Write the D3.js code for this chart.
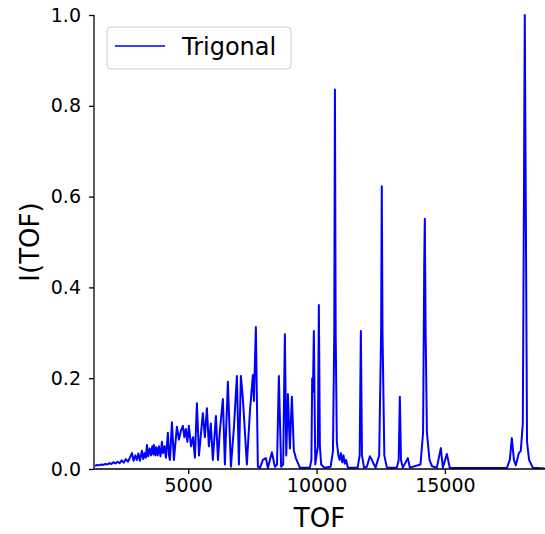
<!DOCTYPE html>
<html>
<head>
<meta charset="utf-8">
<script src="https://cdn.jsdelivr.net/npm/d3@7"></script>
<style>
  html, body { margin: 0; padding: 0; background: #fff; }
  svg text { font-family: "DejaVu Sans", sans-serif; fill: #000; }
</style>
</head>
<body>
<svg id="chart" width="545" height="534"></svg>
<script>
// ---- data ----
const seriesName = "Trigonal";
const tof = [
  1370, 1450, 1530, 1610, 1690, 1770, 1850, 1930, 2010, 2090, 2170, 2250, 2330, 2410, 2490, 2570, 2650, 2730, 2810, 2870,
  2940, 3000, 3060, 3120, 3197, 3250, 3300, 3350, 3392, 3440, 3500, 3548, 3600, 3640, 3665, 3720, 3760, 3810, 3859, 3920,
  3976, 4020, 4080, 4132, 4210, 4250, 4288, 4366, 4443, 4560, 4638, 4720, 4794, 4850, 4910, 4970, 5027, 5110, 5190, 5261,
  5339, 5420, 5570, 5650, 5728, 5806, 5880, 5960, 6079, 6160, 6235, 6351, 6429, 6546, 6663, 6780, 6897, 6975, 7052, 7130,
  7286, 7403, 7520, 7559, 7636, 7714, 7800, 7909, 8026, 8104, 8260, 8377, 8460, 8532, 8620, 8700, 8766, 8820, 8883, 8961,
  9039, 9117, 9194, 9350, 9740, 9800, 9830, 9860, 9895, 9950, 10050, 10090, 10130, 10180, 10300, 10550, 10640, 10690, 10716, 10745,
  10790, 10850, 10900, 10950, 11000, 11050, 11100, 11150, 11220, 11600, 11680, 11726, 11770, 11850, 11960, 12077, 12140, 12194, 12300, 12440,
  12515, 12542, 12570, 12640, 12740, 13128, 13200, 13245, 13290, 13362, 13557, 13635, 14050, 14150, 14195, 14218, 14250, 14300, 14400, 14500,
  14686, 14842, 14920, 15076, 15193, 17412, 17530, 17607, 17690, 17763, 17880, 17957, 18035, 18080, 18112, 18150, 18200, 18280, 18424, 18891
];
const intensity = [
  0.007, 0.009, 0.008, 0.010, 0.009, 0.011, 0.010, 0.013, 0.011, 0.015, 0.012, 0.016, 0.013, 0.019, 0.014, 0.022, 0.016, 0.025, 0.035, 0.018,
  0.030, 0.020, 0.034, 0.018, 0.040, 0.022, 0.035, 0.025, 0.053, 0.028, 0.045, 0.030, 0.050, 0.032, 0.053, 0.030, 0.048, 0.030, 0.050, 0.028,
  0.060, 0.035, 0.050, 0.025, 0.080, 0.030, 0.020, 0.103, 0.020, 0.093, 0.065, 0.085, 0.095, 0.070, 0.088, 0.060, 0.095, 0.050, 0.070, 0.025,
  0.145, 0.030, 0.123, 0.070, 0.134, 0.050, 0.100, 0.020, 0.117, 0.020, 0.085, 0.154, 0.010, 0.192, 0.005, 0.090, 0.205, 0.010, 0.205, 0.155,
  0.010, 0.126, 0.207, 0.150, 0.313, 0.005, 0.003, 0.020, 0.024, 0.002, 0.037, 0.005, 0.010, 0.205, 0.005, 0.010, 0.297, 0.030, 0.165, 0.045,
  0.159, 0.040, 0.024, 0.003, 0.003, 0.020, 0.200, 0.170, 0.304, 0.010, 0.050, 0.361, 0.050, 0.010, 0.003, 0.005, 0.040, 0.300, 0.836, 0.300,
  0.060, 0.030, 0.020, 0.035, 0.015, 0.030, 0.012, 0.020, 0.003, 0.003, 0.030, 0.304, 0.030, 0.003, 0.005, 0.028, 0.022, 0.015, 0.003, 0.030,
  0.300, 0.623, 0.300, 0.030, 0.003, 0.003, 0.020, 0.159, 0.020, 0.003, 0.024, 0.003, 0.010, 0.080, 0.450, 0.551, 0.300, 0.080, 0.020, 0.006,
  0.003, 0.046, 0.003, 0.033, 0.002, 0.002, 0.020, 0.068, 0.020, 0.008, 0.035, 0.040, 0.100, 0.600, 1.000, 0.600, 0.060, 0.020, 0.003, 0.001
];
const xTicks = [5000, 10000, 15000];
const yTicks = [0.0, 0.2, 0.4, 0.6, 0.8, 1.0];
const xDomain = [1330, 18900];
const yDomain = [0, 1];
const xLabel = "TOF";
const yLabel = "I(TOF)";

// ---- layout ----
const W = 545, H = 534;
const plot = { left: 94, right: 545, top: 15, bottom: 469 };
const svg = d3.select("#chart");

const x = d3.scaleLinear().domain(xDomain).range([plot.left, plot.right]);
const y = d3.scaleLinear().domain(yDomain).range([plot.bottom, plot.top]);

const data = tof.map((t, i) => ({ t, v: intensity[i] }));

svg.append("defs").append("clipPath").attr("id", "clip")
  .append("rect").attr("x", plot.left).attr("y", plot.top - 1)
  .attr("width", plot.right - plot.left).attr("height", plot.bottom - plot.top + 1);

// line
svg.append("path")
  .datum(data)
  .attr("clip-path", "url(#clip)")
  .attr("fill", "none")
  .attr("stroke", "#0000ff")
  .attr("stroke-width", 2)
  .attr("stroke-linejoin", "round")
  .attr("d", d3.line().x(d => x(d.t)).y(d => y(d.v)));

// axes
const xAxis = svg.append("g").attr("transform", `translate(0,${plot.bottom})`)
  .call(d3.axisBottom(x).tickValues(xTicks).tickFormat(d3.format("d")).tickSize(5).tickPadding(5));
const yAxis = svg.append("g").attr("transform", `translate(${plot.left},0)`)
  .call(d3.axisLeft(y).tickValues(yTicks).tickFormat(d3.format(".1f")).tickSize(5).tickPadding(8));

[xAxis, yAxis].forEach(g => {
  g.select(".domain").remove();
  g.selectAll(".tick line").attr("stroke", "#000").attr("stroke-width", 1.3);
  g.selectAll(".tick text").attr("font-size", 19).attr("fill", "#000")
    .style("font-family", "DejaVu Sans, sans-serif");
});

// spines
svg.append("line").attr("x1", plot.left).attr("x2", plot.left)
  .attr("y1", plot.top).attr("y2", plot.bottom).attr("stroke", "#000").attr("stroke-width", 1.3);
svg.append("line").attr("x1", plot.left).attr("x2", plot.right)
  .attr("y1", plot.bottom).attr("y2", plot.bottom).attr("stroke", "#000").attr("stroke-width", 1.3);

// axis labels
svg.append("text").attr("x", (plot.left + plot.right) / 2).attr("y", 527)
  .attr("text-anchor", "middle").attr("font-size", 26).text(xLabel);
svg.append("text").attr("transform", `translate(39,${(plot.top + plot.bottom) / 2}) rotate(-90)`)
  .attr("text-anchor", "middle").attr("font-size", 26).text(yLabel);

// legend
const lg = svg.append("g");
lg.append("rect").attr("x", 107).attr("y", 27).attr("width", 184).attr("height", 42)
  .attr("rx", 4).attr("fill", "#fff").attr("fill-opacity", 0.8)
  .attr("stroke", "#cccccc").attr("stroke-width", 1);
lg.append("line").attr("x1", 115).attr("x2", 165).attr("y1", 46).attr("y2", 46)
  .attr("stroke", "#0000ff").attr("stroke-width", 1.6);
lg.append("text").attr("x", 182).attr("y", 55).attr("font-size", 24).text(seriesName);
</script>
</body>
</html>
